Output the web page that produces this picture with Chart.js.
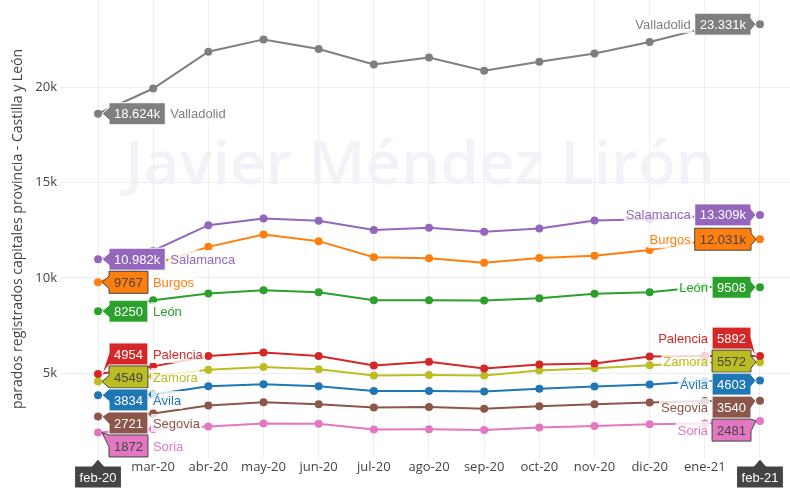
<!DOCTYPE html>
<html>
<head>
<meta charset="utf-8">
<script src="https://cdn.jsdelivr.net/npm/chart.js@4"></script>
<style>
  html, body { margin: 0; padding: 0; background: #fff; }
  #wrap { width: 790px; height: 500px; position: relative; }
</style>
</head>
<body>
<div id="wrap"><canvas id="chart"></canvas></div>
<script>
// data
const months = ['feb-20','mar-20','abr-20','may-20','jun-20','jul-20','ago-20','sep-20','oct-20','nov-20','dic-20','ene-21','feb-21'];
const names = ['Valladolid','Salamanca','Burgos','León','Palencia','Zamora','Ávila','Segovia','Soria'];
const colors = ['#7f7f7f','#9467bd','#ff7f0e','#2ca02c','#d62728','#bcbd22','#1f77b4','#8c564b','#e377c2'];
const darkText = [false, false, true, false, false, true, false, false, true];

const valladolid = [18624, 19950, 21880, 22530, 22030, 21210, 21580, 20880, 21350, 21790, 22390, 23130, 23331];
const salamanca  = [10982, 11430, 12770, 13120, 13000, 12520, 12630, 12420, 12600, 13020, 13080, 13250, 13309];
const burgos     = [9767, 10700, 11630, 12280, 11930, 11090, 11035, 10790, 11050, 11160, 11460, 11950, 12031];
const leon       = [8250, 8820, 9180, 9350, 9250, 8830, 8830, 8810, 8930, 9160, 9240, 9530, 9508];
const palencia   = [4954, 5350, 5900, 6080, 5900, 5400, 5590, 5240, 5450, 5500, 5870, 5900, 5892];
const zamora     = [4549, 4850, 5170, 5320, 5200, 4870, 4900, 4870, 5130, 5250, 5410, 5560, 5572];
const avila      = [3834, 3870, 4310, 4410, 4310, 4050, 4050, 4030, 4170, 4290, 4400, 4580, 4603];
const segovia    = [2721, 2880, 3290, 3470, 3360, 3190, 3210, 3120, 3260, 3360, 3450, 3530, 3540];
const soria      = [1872, 2060, 2190, 2350, 2330, 2030, 2050, 2010, 2140, 2220, 2310, 2350, 2481];

const seriesValues = [valladolid, salamanca, burgos, leon, palencia, zamora, avila, segovia, soria];
const yTicks = [5000, 10000, 15000, 20000];
const yTitle = 'parados registrados capitales provincia - Castilla y León';
const watermark = 'Javier Méndez Lirón';

const datasets = names.map((n, i) => ({
  label: n,
  data: seriesValues[i].map((v, j) => ({ x: j, y: v })),
  borderColor: colors[i],
  backgroundColor: colors[i],
  borderWidth: 2,
  pointRadius: 3,
  pointHoverRadius: 3,
  tension: 0
}));

function fmt(v) {
  return v >= 10000 ? (v / 1000).toFixed(3) + 'k' : String(v);
}

// stack hover-like labels the way plotly does: overlapping groups get centred on their mean
function stack(items, sp, lo, hi) {
  items.sort((a, b) => a.py - b.py);
  let groups = items.map(it => ({ m: [it] }));
  const place = g => {
    const mean = g.m.reduce((s, it) => s + it.py, 0) / g.m.length;
    let start = mean - (g.m.length - 1) * sp / 2;
    start = Math.max(lo + sp / 2, Math.min(start, hi - sp / 2 - (g.m.length - 1) * sp));
    g.m.forEach((it, k) => { it.cy = start + k * sp; });
  };
  groups.forEach(place);
  let merged = true;
  while (merged) {
    merged = false;
    for (let i = 0; i < groups.length - 1; i++) {
      const a = groups[i], b = groups[i + 1];
      if (a.m[a.m.length - 1].cy + sp > b.m[0].cy + 0.01) {
        const g = { m: a.m.concat(b.m) };
        place(g);
        groups.splice(i, 2, g);
        merged = true;
        break;
      }
    }
  }
  return items;
}

function drawLabel(ctx, it, side) {
  const h = 22, pad = 5;
  ctx.font = '13px "Liberation Sans", Arial, sans-serif';
  const tw = ctx.measureText(it.text).width;
  const w = tw + pad * 2;
  const top = it.cy - h / 2, bot = it.cy + h / 2;
  let bx, tipX, edge;
  if (side === 'left') { bx = it.px + 11; edge = bx; tipX = it.px + 4; }
  else { bx = it.px - 9 - w; edge = bx + w; tipX = it.px - 4; }
  const y1 = Math.max(top, Math.min(it.py - 6, bot - 12));
  const y2 = y1 + 12;
  ctx.beginPath();
  if (side === 'left') {
    ctx.moveTo(edge, top); ctx.lineTo(bx + w, top); ctx.lineTo(bx + w, bot); ctx.lineTo(edge, bot);
    ctx.lineTo(edge, y2); ctx.lineTo(tipX, it.py); ctx.lineTo(edge, y1);
  } else {
    ctx.moveTo(bx, top); ctx.lineTo(edge, top); ctx.lineTo(edge, y1); ctx.lineTo(tipX, it.py);
    ctx.lineTo(edge, y2); ctx.lineTo(edge, bot); ctx.lineTo(bx, bot);
  }
  ctx.closePath();
  ctx.fillStyle = it.color;
  ctx.fill();
  ctx.lineWidth = 1;
  ctx.strokeStyle = it.dark ? '#444' : '#fff';
  ctx.stroke();
  ctx.fillStyle = it.dark ? '#444' : '#fff';
  ctx.textBaseline = 'middle';
  ctx.textAlign = 'left';
  ctx.fillText(it.text, bx + pad, it.cy + 1);

  // series name beside the box
  const nw = ctx.measureText(it.name).width;
  const nx = side === 'left' ? bx + w + 5 : bx - 4 - nw;
  ctx.fillStyle = 'rgba(255,255,255,0.8)';
  ctx.fillRect(nx - 2, it.cy - 9, nw + 4, 18);
  ctx.fillStyle = it.color;
  ctx.fillText(it.name, nx, it.cy + 1);
}

function drawAxisBox(ctx, x, text, area) {
  ctx.font = '13px "Liberation Sans", Arial, sans-serif';
  const w = ctx.measureText(text).width + 10;
  const top = area.bottom + 8, bot = top + 22;
  ctx.beginPath();
  ctx.moveTo(x - w / 2, top); ctx.lineTo(x - 6, top); ctx.lineTo(x, area.bottom + 1);
  ctx.lineTo(x + 6, top); ctx.lineTo(x + w / 2, top); ctx.lineTo(x + w / 2, bot); ctx.lineTo(x - w / 2, bot);
  ctx.closePath();
  ctx.fillStyle = '#444';
  ctx.fill();
  ctx.strokeStyle = '#fff';
  ctx.lineWidth = 1;
  ctx.stroke();
  ctx.fillStyle = '#fff';
  ctx.textAlign = 'center';
  ctx.textBaseline = 'middle';
  ctx.fillText(text, x, (top + bot) / 2 + 1);
}

const decor = {
  id: 'decor',
  beforeDraw(chart) {
    const { ctx, chartArea: a } = chart;
    ctx.save();
    ctx.fillStyle = '#fff';
    ctx.fillRect(0, 0, chart.width, chart.height);
    // faint watermark, stretched to the width it has in the original
    ctx.save();
    ctx.font = '600 60px "Open Sans", sans-serif';
    ctx.fillStyle = '#f1f3f9';
    ctx.textAlign = 'center';
    ctx.textBaseline = 'alphabetic';
    const ww = ctx.measureText(watermark).width;
    ctx.translate(420, 184);
    ctx.scale(590 / ww, 1);
    ctx.fillText(watermark, 0, 0);
    ctx.restore();
    // y title
    ctx.translate(18, (a.top + a.bottom) / 2);
    ctx.rotate(-Math.PI / 2);
    ctx.font = '14px "Open Sans", sans-serif';
    ctx.fillStyle = '#444';
    ctx.textAlign = 'center';
    ctx.textBaseline = 'middle';
    ctx.fillText(yTitle, 0, 0);
    ctx.restore();
  },
  afterDatasetsDraw(chart) {
    const { ctx, chartArea: a } = chart;
    const last = months.length - 1;
    const left = [], right = [];
    chart.data.datasets.forEach((ds, i) => {
      const pts = chart.getDatasetMeta(i).data;
      left.push({ px: pts[0].x, py: pts[0].y, text: fmt(seriesValues[i][0]), name: names[i], color: colors[i], dark: darkText[i] });
      right.push({ px: pts[last].x, py: pts[last].y, text: fmt(seriesValues[i][last]), name: names[i], color: colors[i], dark: darkText[i] });
    });
    ctx.save();
    stack(left, 23, a.top, a.bottom).forEach(it => drawLabel(ctx, it, 'left'));
    stack(right, 23, a.top, a.bottom).forEach(it => drawLabel(ctx, it, 'right'));
    const xs = chart.scales.x;
    drawAxisBox(ctx, xs.getPixelForValue(0), months[0], a);
    drawAxisBox(ctx, xs.getPixelForValue(last), months[last], a);
    ctx.restore();
  }
};

new Chart(document.getElementById('chart'), {
  type: 'line',
  data: { datasets },
  options: {
    responsive: true,
    maintainAspectRatio: false,
    animation: false,
    layout: { padding: 0, autoPadding: false },
    plugins: { legend: { display: false }, tooltip: { enabled: false } },
    events: [],
    scales: {
      x: {
        type: 'linear',
        min: -0.689,
        max: 12.544,
        border: { display: false },
        grid: { color: '#eeeeee', lineWidth: 1, drawTicks: false },
        afterBuildTicks: s => { s.ticks = months.map((m, i) => ({ value: i })); },
        ticks: {
          padding: 1,
          maxRotation: 0,
          autoSkip: false,
          color: '#444',
          font: { family: '"Open Sans", sans-serif', size: 13 },
          callback: v => (v === 0 || v === months.length - 1) ? '' : months[v]
        },
        afterFit: s => { s.height = 42; s.paddingLeft = 0; s.paddingRight = 0; }
      },
      y: {
        min: 536,
        max: 24600,
        border: { display: false },
        grid: { color: '#eeeeee', lineWidth: 1, drawTicks: false },
        afterBuildTicks: s => { s.ticks = yTicks.map(v => ({ value: v })); },
        ticks: {
          padding: 3,
          color: '#444',
          font: { family: '"Open Sans", sans-serif', size: 13 },
          callback: v => (v / 1000) + 'k'
        },
        afterFit: s => { s.width = 60; s.paddingTop = 0; s.paddingBottom = 0; }
      }
    }
  },
  plugins: [decor]
});
</script>
</body>
</html>
